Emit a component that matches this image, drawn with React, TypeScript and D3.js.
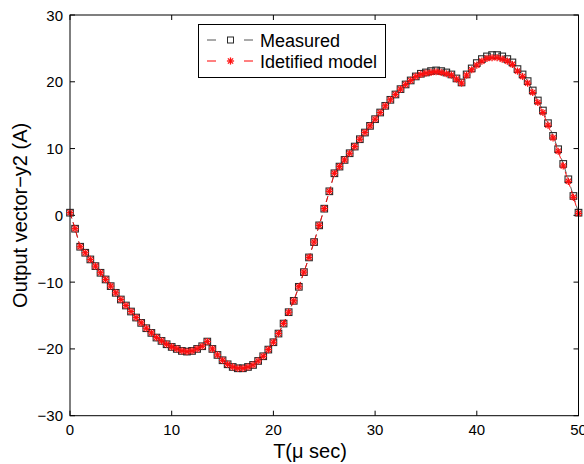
import React from "react";
import * as d3 from "d3";

const timeUs = [
  0, 0.5, 1, 1.5, 2, 2.5, 3, 3.5, 4, 4.5, 5, 5.5, 6, 6.5, 7, 7.5, 8, 8.5, 9, 9.5,
  10, 10.5, 11, 11.5, 12, 12.5, 13, 13.5, 14, 14.5, 15, 15.5, 16, 16.5, 17, 17.5, 18, 18.5, 19, 19.5,
  20, 20.5, 21, 21.5, 22, 22.5, 23, 23.5, 24, 24.5, 25, 25.5, 26, 26.5, 27, 27.5, 28, 28.5, 29, 29.5,
  30, 30.5, 31, 31.5, 32, 32.5, 33, 33.5, 34, 34.5, 35, 35.5, 36, 36.5, 37, 37.5, 38, 38.5, 39, 39.5,
  40, 40.5, 41, 41.5, 42, 42.5, 43, 43.5, 44, 44.5, 45, 45.5, 46, 46.5, 47, 47.5, 48, 48.5, 49, 49.5, 50,
];

const measured = [
  0.4, -2.0, -4.7, -5.6, -6.6, -7.6, -8.6, -9.6, -10.6, -11.6,
  -12.6, -13.5, -14.4, -15.3, -16.1, -16.9, -17.6, -18.3, -18.8, -19.3,
  -19.7, -20.0, -20.3, -20.4, -20.3, -20.0, -19.6, -18.9, -20.0, -20.9,
  -21.7, -22.3, -22.7, -22.9, -22.9, -22.7, -22.4, -21.8, -21.1, -20.1,
  -19.0, -17.7, -16.2, -14.5, -12.8, -10.7, -8.5, -6.3, -4.0, -1.5,
  1.0, 3.6, 6.3, 7.3, 8.3, 9.3, 10.3, 11.4, 12.4, 13.4,
  14.4, 15.4, 16.4, 17.3, 18.1, 18.9, 19.6, 20.2, 20.8, 21.2,
  21.4, 21.6, 21.7, 21.6, 21.4, 21.1, 20.5, 19.9, 21.1, 22.0,
  22.8, 23.4, 23.8, 24.0, 24.0, 23.8, 23.4, 22.9, 21.9, 21.1,
  20.1, 18.7, 17.2, 15.7, 13.8, 11.9, 9.9, 7.7, 5.4, 2.9,
  0.4,
];

const model = [
  0.4, -2.0, -4.7, -5.6, -6.6, -7.6, -8.6, -9.6, -10.6, -11.6,
  -12.6, -13.5, -14.4, -15.3, -16.1, -16.9, -17.6, -18.3, -18.8, -19.3,
  -19.7, -20.0, -20.3, -20.4, -20.3, -20.0, -19.6, -18.9, -20.0, -20.9,
  -21.7, -22.3, -22.7, -22.9, -22.9, -22.7, -22.4, -21.8, -21.1, -20.1,
  -19.0, -17.7, -16.2, -14.5, -12.8, -10.7, -8.5, -6.3, -4.0, -1.5,
  1.0, 3.6, 6.3, 7.3, 8.3, 9.3, 10.3, 11.4, 12.4, 13.4,
  14.4, 15.4, 16.4, 17.3, 18.1, 18.9, 19.6, 20.2, 20.8, 21.1,
  21.3, 21.4, 21.5, 21.4, 21.2, 21.0, 20.4, 19.8, 21.0, 21.8,
  22.5, 23.1, 23.5, 23.6, 23.6, 23.4, 23.1, 22.6, 21.6, 20.8,
  19.8, 18.4, 16.9, 15.4, 13.5, 11.6, 9.6, 7.4, 5.1, 2.7,
  0.3,
];

const xTicks = [0, 10, 20, 30, 40, 50];
const yTicks = [-30, -20, -10, 0, 10, 20, 30];
const legendLabels = ["Measured", "Idetified model"];

const W = 584;
const H = 464;
const FONT = "'Liberation Sans', Arial, Helvetica, sans-serif";

export default function App() {
  const x = d3.scaleLinear().domain([0, 50]).range([70, 578.5]);
  const y = d3.scaleLinear().domain([-30, 30]).range([415.7, 15]);

  const measPts = timeUs.map((t, i) => [x(t), y(measured[i])] as [number, number]);
  const modPts = timeUs.map((t, i) => [x(t), y(model[i])] as [number, number]);
  const line = d3.line();

  const x0 = x.range()[0];
  const x1 = x.range()[1];
  const yb = y.range()[0];
  const yt = y.range()[1];
  const tl = 5;

  const fmt = (v: number) => (v < 0 ? "\u2212" + Math.abs(v) : String(v));

  const star = (cx: number, cy: number, k: string | number) => {
    const r = 3.6;
    const d = r * 0.72;
    return (
      <g key={k} stroke="#ff1010" strokeWidth={1.3}>
        <line x1={cx - r} y1={cy} x2={cx + r} y2={cy} />
        <line x1={cx} y1={cy - r} x2={cx} y2={cy + r} />
        <line x1={cx - d} y1={cy - d} x2={cx + d} y2={cy + d} />
        <line x1={cx - d} y1={cy + d} x2={cx + d} y2={cy - d} />
      </g>
    );
  };
  const sq = (cx: number, cy: number, k: string | number) => (
    <rect key={k} x={cx - 3.3} y={cy - 3.3} width={6.6} height={6.6} fill="none" stroke="#2a2a2a" strokeWidth={1.1} />
  );

  return (
    <svg width={W} height={H} style={{ position: "absolute", left: 0, top: 0, background: "#fff" }}>
      <rect x={0} y={0} width={W} height={H} fill="#fff" />
      {xTicks.map((t) => (
        <g key={"xt" + t} stroke="#000" strokeWidth={1}>
          <line x1={x(t)} x2={x(t)} y1={yb} y2={yb - tl} />
          <line x1={x(t)} x2={x(t)} y1={yt} y2={yt + tl} />
        </g>
      ))}
      {yTicks.map((v) => (
        <g key={"yt" + v} stroke="#000" strokeWidth={1}>
          <line x1={x0} x2={x0 + tl} y1={y(v)} y2={y(v)} />
          <line x1={x1} x2={x1 - tl} y1={y(v)} y2={y(v)} />
        </g>
      ))}
      <path d={line(measPts) || ""} fill="none" stroke="#333" strokeWidth={0.8} strokeDasharray="6,4" />
      {measPts.map((p, i) => sq(p[0], p[1], "m" + i))}
      <path d={line(modPts) || ""} fill="none" stroke="#ff0000" strokeWidth={0.9} strokeDasharray="6,4" />
      {modPts.map((p, i) => star(p[0], p[1], "s" + i))}
      <rect x={x0} y={yt} width={x1 - x0} height={yb - yt} fill="none" stroke="#000" strokeWidth={1} />
      {xTicks.map((t) => (
        <text key={"xl" + t} x={x(t)} y={435} textAnchor="middle" fontFamily={FONT} fontSize={15} fill="#000">
          {fmt(t)}
        </text>
      ))}
      {yTicks.map((v) => (
        <text key={"yl" + v} x={63} y={y(v) + 5.5} textAnchor="end" fontFamily={FONT} fontSize={15} fill="#000">
          {fmt(v)}
        </text>
      ))}
      <text x={310} y={458} textAnchor="middle" fontFamily={FONT} fontSize={20} fill="#000">
        T(μ sec)
      </text>
      <text
        transform={`translate(27,${(yt + yb) / 2}) rotate(-90)`}
        textAnchor="middle"
        fontFamily={FONT}
        fontSize={20}
        fill="#000"
      >
        Output vector−y2 (A)
      </text>
      <rect x={198.5} y={24.5} width={187} height={53} fill="#fff" stroke="#000" strokeWidth={1} />
      <g>
        <line x1={207} x2={216} y1={40} y2={40} stroke="#555" strokeWidth={1} />
        <line x1={244} x2={253} y1={40} y2={40} stroke="#555" strokeWidth={1} />
        <rect x={227.5} y={37} width={6} height={6} fill="none" stroke="#2a2a2a" strokeWidth={1} />
        <text x={260} y={46.5} fontFamily={FONT} fontSize={18} fill="#000">
          {legendLabels[0]}
        </text>
        <line x1={207} x2={216} y1={61} y2={61} stroke="#ff0000" strokeWidth={1} />
        <line x1={244} x2={253} y1={61} y2={61} stroke="#ff0000" strokeWidth={1} />
        {star(230.5, 61, "lg2")}
        <text x={260} y={67.5} fontFamily={FONT} fontSize={18} fill="#000">
          {legendLabels[1]}
        </text>
      </g>
    </svg>
  );
}
